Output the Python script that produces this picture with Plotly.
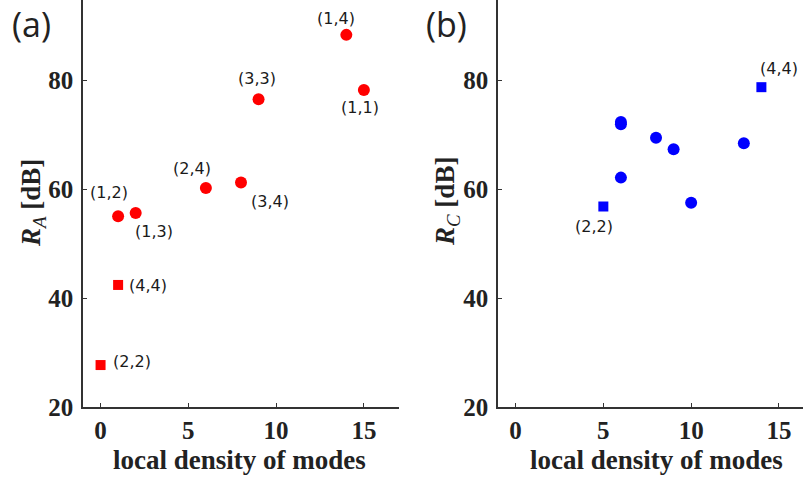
import plotly.graph_objects as go

# Panel (a): R_A versus local density of modes
a_circ_x = [14, 15, 9, 6, 8, 1, 2]
a_circ_y = [88.3, 78.2, 76.5, 60.2, 61.2, 55.0, 55.6]
a_circ_lbl = ["(1,4)", "(1,1)", "(3,3)", "(2,4)", "(3,4)", "(1,2)", "(1,3)"]
a_sq_x = [1, 0]
a_sq_y = [42.4, 27.7]
a_sq_lbl = ["(4,4)", "(2,2)"]

# Panel (b): R_C versus local density of modes
b_circ_x = [6, 6, 6, 8, 9, 10, 13]
b_circ_y = [72.3, 71.9, 62.1, 69.4, 67.3, 57.5, 68.4]
b_sq_x = [5, 14]
b_sq_y = [56.8, 78.7]
b_sq_lbl = ["(2,2)", "(4,4)"]

# label offsets in pixels (dx right, dy up)
a_circ_off = [(-10, 16), (-4, -18), (-2, 21), (-14, 19), (29, -19), (-9, 24), (18, -18)]
a_sq_off = [(30, -1), (31, 4)]
b_sq_off = [(-9, -20), (18, 19)]

RED = "#ff0000"
BLUE = "#0000ff"
W, H = 803, 482
PH = 407  # plot-area height in pixels


def py(pix):
    """Convert a pixel row (from top) to paper y."""
    return (PH - pix) / PH


fig = go.Figure()
fig.add_trace(go.Scatter(x=a_circ_x, y=a_circ_y, mode="markers",
                         marker=dict(symbol="circle", size=12, color=RED),
                         xaxis="x", yaxis="y", showlegend=False))
fig.add_trace(go.Scatter(x=a_sq_x, y=a_sq_y, mode="markers",
                         marker=dict(symbol="square", size=10, color=RED),
                         xaxis="x", yaxis="y", showlegend=False))
fig.add_trace(go.Scatter(x=b_circ_x, y=b_circ_y, mode="markers",
                         marker=dict(symbol="circle", size=12, color=BLUE),
                         xaxis="x2", yaxis="y2", showlegend=False))
fig.add_trace(go.Scatter(x=b_sq_x, y=b_sq_y, mode="markers",
                         marker=dict(symbol="square", size=10, color=BLUE),
                         xaxis="x2", yaxis="y2", showlegend=False))

lbl_font = dict(family="DejaVu Sans", size=16, color="#1a1a1a")
annotations = []


def add_labels(xs, ys, labels, offs, xr, yr):
    for x, y, t, (dx, dy) in zip(xs, ys, labels, offs):
        annotations.append(dict(x=x, y=y, xref=xr, yref=yr, text=t, showarrow=False,
                                xshift=dx, yshift=dy, font=lbl_font,
                                xanchor="center", yanchor="middle"))


add_labels(a_circ_x, a_circ_y, a_circ_lbl, a_circ_off, "x", "y")
add_labels(a_sq_x, a_sq_y, a_sq_lbl, a_sq_off, "x", "y")
add_labels(b_sq_x, b_sq_y, b_sq_lbl, b_sq_off, "x2", "y2")

title_font = dict(family="Liberation Serif", size=27, color="#222222")
panel_font = dict(family="Open Sans", size=34, color="#222222")

# x-axis titles
for xc in (239 / W, 656 / W):
    annotations.append(dict(x=xc, y=py(460), xref="paper", yref="paper",
                            text="<b>local density of modes</b>", showarrow=False,
                            font=title_font, xanchor="center", yanchor="middle"))
# y-axis titles
annotations.append(dict(x=33 / W, y=py(203), xref="paper", yref="paper",
                        text="<b><i>R</i></b><sub><i>A</i></sub><b> [dB]</b>",
                        textangle=-90, showarrow=False, font=title_font,
                        xanchor="center", yanchor="middle"))
annotations.append(dict(x=447 / W, y=py(202), xref="paper", yref="paper",
                        text="<b><i>R</i></b><sub><i>C</i></sub><b> [dB]</b>",
                        textangle=-90, showarrow=False, font=title_font,
                        xanchor="center", yanchor="middle"))
# panel tags
annotations.append(dict(x=31 / W, y=py(0), xref="paper", yref="paper", text="(a)",
                        showarrow=False, font=panel_font, xanchor="center", yanchor="top",
                        borderpad=0))
annotations.append(dict(x=446 / W, y=py(0), xref="paper", yref="paper", text="(b)",
                        showarrow=False, font=panel_font, xanchor="center", yanchor="top",
                        borderpad=0))

tick_font = dict(family="Liberation Serif", size=25, color="#222222")
axis_common = dict(showgrid=False, zeroline=False, showline=True, linecolor="#333333",
                   linewidth=1.5, ticks="inside", ticklen=4, tickcolor="#333333",
                   tickwidth=1, tickfont=tick_font, mirror=False)

xt = [0, 5, 10, 15]
yt = [20, 40, 60, 80]
xtt = ["<b>%d</b>" % v for v in xt]
ytt = ["<b>%d</b>" % v for v in yt]

fig.update_layout(
    width=W, height=H,
    margin=dict(l=0, r=0, t=0, b=H - PH),
    plot_bgcolor="white", paper_bgcolor="white",
    xaxis=dict(domain=[83 / W, 399 / W], range=[-1, 17], tickvals=xt, ticktext=xtt,
               anchor="y", ticklabelstandoff=0, **axis_common),
    yaxis=dict(domain=[0, 1], range=[20, 94.7], tickvals=yt, ticktext=ytt,
               anchor="x", ticklabelstandoff=3, **axis_common),
    xaxis2=dict(domain=[498 / W, 1.0], range=[-1, 16.37], tickvals=xt, ticktext=xtt,
                anchor="y2", ticklabelstandoff=0, **axis_common),
    yaxis2=dict(domain=[0, 1], range=[20, 94.7], tickvals=yt, ticktext=ytt,
                anchor="x2", ticklabelstandoff=3, **axis_common),
    annotations=annotations,
)

fig.write_html("out.html")
